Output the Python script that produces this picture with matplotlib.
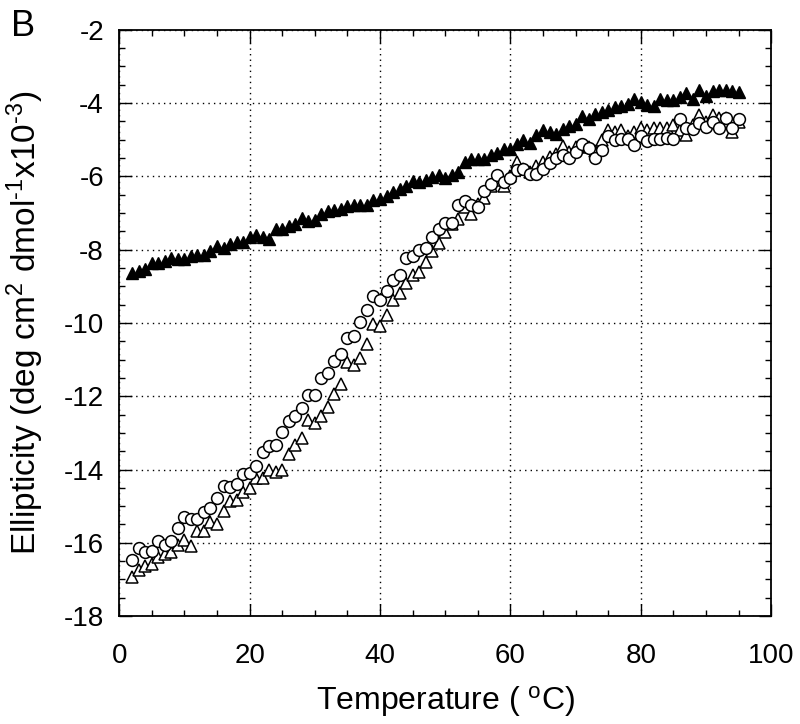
import matplotlib
matplotlib.use("Agg")
import matplotlib.pyplot as plt
from matplotlib.ticker import MultipleLocator
import numpy as np

plt.rcParams['font.family'] = ['Liberation Sans', 'DejaVu Sans']
plt.rcParams['mathtext.fontset'] = 'custom'
plt.rcParams['mathtext.rm'] = 'Liberation Sans'
plt.rcParams['mathtext.it'] = 'Liberation Sans'
plt.rcParams['axes.unicode_minus'] = False

# temperature, one reading per degree
temp = np.arange(2, 96)

# filled triangles
filled_tri = [
    -8.64, -8.59, -8.53, -8.37, -8.37, -8.32, -8.23, -8.27, -8.27, -8.18,
    -8.14, -8.14, -8.05, -7.91, -7.95, -7.86, -7.80, -7.80, -7.65, -7.59,
    -7.65, -7.71, -7.43, -7.45, -7.36, -7.29, -7.13, -7.22, -7.18, -7.04,
    -6.95, -6.92, -6.90, -6.81, -6.79, -6.77, -6.77, -6.66, -6.63, -6.54,
    -6.43, -6.34, -6.26, -6.13, -6.16, -6.11, -6.02, -5.97, -6.06, -5.97,
    -5.88, -5.61, -5.52, -5.52, -5.52, -5.43, -5.36, -5.25, -5.25, -5.11,
    -5.02, -5.09, -4.88, -4.75, -4.79, -4.85, -4.70, -4.64, -4.56, -4.36,
    -4.45, -4.29, -4.25, -4.18, -4.11, -4.09, -4.02, -3.88, -3.97, -4.06,
    -4.09, -3.88, -3.91, -3.91, -3.85, -3.73, -3.88, -3.65, -3.82, -3.67,
    -3.65, -3.65, -3.67, -3.70,
]

# open circles
open_circ = [
    -16.46, -16.15, -16.25, -16.21, -15.96, -16.05, -15.96, -15.60, -15.30, -15.36,
    -15.36, -15.16, -15.05, -14.78, -14.45, -14.48, -14.39, -14.12, -14.09, -13.91,
    -13.53, -13.35, -13.33, -12.98, -12.69, -12.55, -12.33, -11.98, -11.96, -11.50,
    -11.36, -11.03, -10.85, -10.42, -10.35, -9.98, -9.66, -9.26, -9.37, -9.14,
    -8.82, -8.68, -8.23, -8.18, -8.00, -7.95, -7.65, -7.45, -7.27, -7.27,
    -6.79, -6.67, -6.79, -6.84, -6.40, -6.20, -5.97, -6.15, -6.04, -5.84,
    -5.79, -5.95, -5.95, -5.79, -5.64, -5.49, -5.43, -5.49, -5.34, -5.13,
    -5.22, -5.49, -5.29, -4.91, -5.02, -4.97, -4.97, -5.15, -4.91, -5.04,
    -4.97, -4.97, -4.95, -4.97, -4.45, -4.67, -4.70, -4.55, -4.65, -4.52,
    -4.67, -4.40, -4.67, -4.43,
]

# open triangles
open_tri = [
    -16.94, -16.75, -16.62, -16.57, -16.39, -16.30, -16.25, -16.07, -15.91, -16.09,
    -15.69, -15.69, -15.42, -15.48, -15.12, -14.85, -14.82, -14.62, -14.51, -14.24,
    -14.24, -14.00, -14.07, -14.00, -13.57, -13.33, -13.15, -12.66, -12.73, -12.53,
    -12.30, -11.94, -11.66, -11.07, -11.15, -10.96, -10.57, -10.03, -10.09, -9.78,
    -9.38, -9.19, -8.91, -8.68, -8.60, -8.34, -8.03, -7.82, -7.51, -7.30,
    -7.17, -6.85, -7.02, -6.76, -6.60, -6.26, -6.10, -6.26, -6.00, -5.61,
    -5.80, -5.89, -5.73, -5.61, -5.48, -5.39, -5.16, -5.34, -5.20, -5.16,
    -5.20, -5.30, -5.00, -4.75, -4.78, -4.74, -4.90, -4.78, -4.69, -4.74,
    -4.69, -4.67, -4.67, -4.60, -4.75, -4.87, -4.60, -4.33, -4.51, -4.33,
    -4.40, -4.42, -4.78, -4.51,
]

fig = plt.figure(figsize=(8.0, 7.24), dpi=100)
ax = fig.add_axes([0.149, 0.149, 0.815, 0.81])

ms = 8.5
ax.plot(temp, open_tri, linestyle='none', marker='^', markersize=ms,
        markerfacecolor='white', markeredgecolor='black', markeredgewidth=1.1)
ax.plot(temp, open_circ, linestyle='none', marker='o', markersize=ms,
        markerfacecolor='white', markeredgecolor='black', markeredgewidth=1.1)
ax.plot(temp, filled_tri, linestyle='none', marker='^', markersize=ms,
        markerfacecolor='black', markeredgecolor='black', markeredgewidth=1.0)

ax.set_xlim(0, 100)
ax.set_ylim(-18, -2)
ax.xaxis.set_major_locator(MultipleLocator(20))
ax.xaxis.set_minor_locator(MultipleLocator(5))
ax.yaxis.set_major_locator(MultipleLocator(2))
ax.yaxis.set_minor_locator(MultipleLocator(0.5))

ax.grid(True, which='major', color='black', linestyle=(0, (1, 3)), linewidth=1.0)
ax.set_axisbelow(True)

ax.tick_params(which='both', direction='in', top=True, right=True,
               colors='black', width=1.0, labelsize=20)
ax.tick_params(which='major', length=9)
ax.tick_params(which='minor', length=4.5)
ax.tick_params(axis='x', pad=19)
ax.tick_params(axis='y', pad=11)
for s in ax.spines.values():
    s.set_linewidth(1.3)

ax.set_xlabel('Temperature ( $^{\\rm o}$C)', fontsize=23, labelpad=11)
ax.set_ylabel('Ellipticity (deg cm$^{2}$ dmol$^{\\text{-1}}$x10$^{\\text{-3}}$)',
              fontsize=24, labelpad=13)

fig.text(0.014, 0.988, 'B', fontsize=26, va='top', ha='left')

fig.savefig('out.png', dpi=100)
